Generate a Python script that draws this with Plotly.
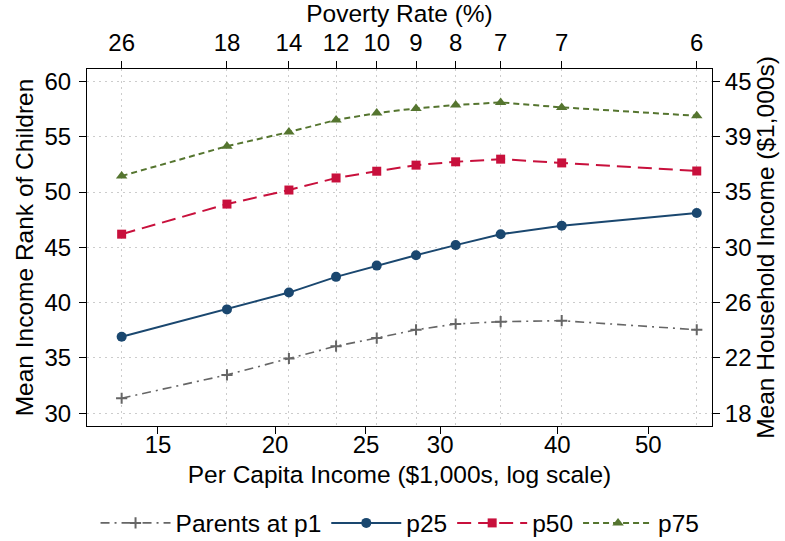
import plotly.graph_objects as go

# Data
per_capita_income = [13.72, 17.77, 20.69, 23.23, 25.67, 28.27, 31.16, 34.80, 40.43, 56.33]
poverty_rate_labels = ["26", "18", "14", "12", "10", "9", "8", "7", "7", "6"]
parents_p1 = [31.36, 33.47, 34.95, 36.07, 36.80, 37.55, 38.07, 38.28, 38.37, 37.55]
parents_p25 = [36.92, 39.39, 40.91, 42.33, 43.35, 44.29, 45.20, 46.19, 46.95, 48.10]
parents_p50 = [46.19, 48.91, 50.18, 51.27, 51.88, 52.43, 52.73, 52.97, 52.63, 51.90]
parents_p75 = [51.45, 54.14, 55.42, 56.51, 57.14, 57.56, 57.86, 58.10, 57.65, 56.89]

bottom_ticks = [15, 20, 25, 30, 40, 50]
left_ticks = [30, 35, 40, 45, 50, 55, 60]
household_income_labels = ["18", "22", "26", "30", "35", "39", "45"]

FONT = "Liberation Sans, Arial, Helvetica, sans-serif"
TICK_SIZE = 24
TITLE_SIZE = 24.5
LEGEND_SIZE = 24.5

fig = go.Figure()

fig.add_trace(go.Scatter(
    x=per_capita_income, y=parents_p1, name="Parents at p1",
    mode="lines+markers",
    line=dict(color="#666666", width=1.6, dash="9px,5px,2px,5px"),
    marker=dict(symbol="cross-thin", size=8, line=dict(color="#666666", width=2)),
))
fig.add_trace(go.Scatter(
    x=per_capita_income, y=parents_p25, name="p25",
    mode="lines+markers",
    line=dict(color="#1a476f", width=2),
    marker=dict(symbol="circle", size=10, color="#1a476f"),
))
fig.add_trace(go.Scatter(
    x=per_capita_income, y=parents_p50, name="p50",
    mode="lines+markers",
    line=dict(color="#c8103c", width=2, dash="14px,7px"),
    marker=dict(symbol="square", size=9, color="#c8103c"),
))
fig.add_trace(go.Scatter(
    x=per_capita_income, y=parents_p75, name="p75",
    mode="lines+markers",
    line=dict(color="#55752f", width=2, dash="6px,4px"),
    marker=dict(symbol="triangle-up", size=10, color="#55752f"),
))
# invisible helper trace so the top and right axes exist
fig.add_trace(go.Scatter(
    x=per_capita_income, y=parents_p1, xaxis="x2", yaxis="y2",
    mode="markers", marker=dict(opacity=0), showlegend=False, hoverinfo="skip",
))

xrange_log = [1.1004, 1.7670]
yrange = [28.85, 61.12]
grid_color = "#cccccc"

fig.update_layout(
    width=785, height=541,
    margin=dict(l=87, r=73, t=69, b=115, autoexpand=False),
    paper_bgcolor="white", plot_bgcolor="white",
    font=dict(family=FONT, size=TICK_SIZE, color="black"),
    showlegend=True,
    legend=dict(
        orientation="h", xref="container", yref="container",
        x=0.5096, xanchor="center", y=0.0333, yanchor="middle",
        font=dict(size=LEGEND_SIZE), itemwidth=70, tracegroupgap=0,
        bgcolor="rgba(0,0,0,0)",
    ),
    xaxis=dict(
        type="log", range=xrange_log, tickvals=bottom_ticks,
        ticktext=[str(v) for v in bottom_ticks],
        ticks="outside", ticklen=7, tickcolor="black",
        ticklabelstandoff=-10,
        showline=True, linecolor="black", linewidth=1,
        showgrid=False, zeroline=False, automargin=False,
        title=dict(text="Per Capita Income ($1,000s, log scale)",
                   font=dict(size=TITLE_SIZE), standoff=9),
    ),
    xaxis2=dict(
        type="log", range=xrange_log, overlaying="x", side="top",
        tickvals=per_capita_income, ticktext=poverty_rate_labels,
        ticks="outside", ticklen=7, tickcolor="black",
        showline=True, linecolor="black", linewidth=1,
        showgrid=True, gridcolor=grid_color, gridwidth=1, griddash="2px,4px",
        zeroline=False, automargin=False,
        title=dict(text="Poverty Rate (%)", font=dict(size=TITLE_SIZE), standoff=3),
    ),
    yaxis=dict(
        range=yrange, tickvals=left_ticks,
        ticktext=[str(v) for v in left_ticks],
        ticks="outside", ticklen=7, tickcolor="black",
        ticklabelstandoff=3,
        showline=True, linecolor="black", linewidth=1,
        showgrid=True, gridcolor=grid_color, gridwidth=1, griddash="2px,4px",
        zeroline=False, automargin=False,
        title=dict(text="Mean Income Rank of Children",
                   font=dict(size=TITLE_SIZE), standoff=3),
    ),
    yaxis2=dict(
        range=yrange, overlaying="y", side="right",
        tickvals=left_ticks, ticktext=household_income_labels,
        ticks="outside", ticklen=7, tickcolor="black",
        showline=True, linecolor="black", linewidth=1,
        showgrid=False, zeroline=False, automargin=False,
        title=dict(text="Mean Household Income ($1,000s)",
                   font=dict(size=TITLE_SIZE), standoff=6),
    ),
)

# remove the page's default 8px body margin so the figure fills the window
fig.write_html("out.html", config={"displayModeBar": False},
               post_script="document.body.style.margin='0px';")
